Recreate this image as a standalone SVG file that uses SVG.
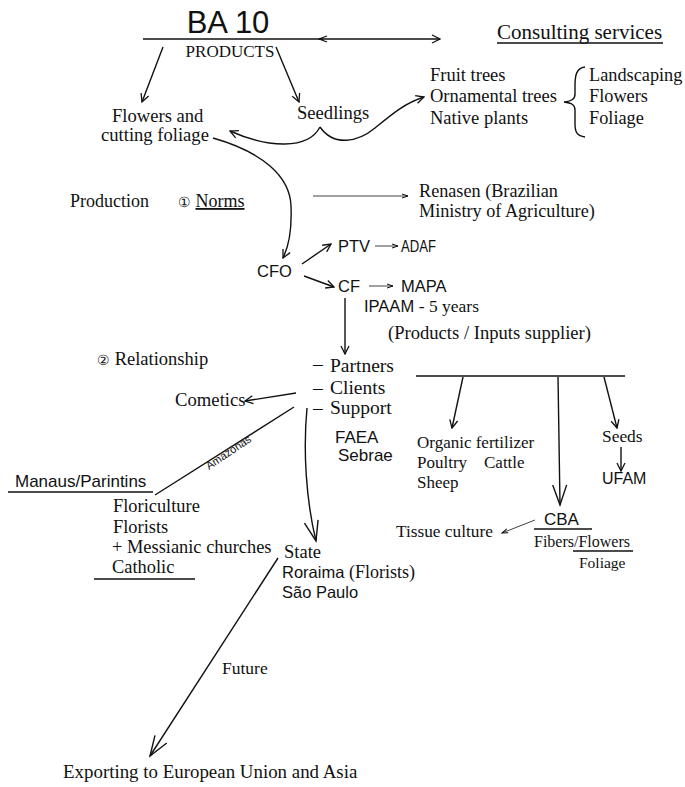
<svg xmlns="http://www.w3.org/2000/svg" width="685" height="787" viewBox="0 0 685 787">
<style>
  .s { font-family: "Liberation Serif", "Times New Roman", serif; fill: #111; }
  .a { font-family: "Liberation Sans", Arial, sans-serif; fill: #111; }
  .ln { stroke: #111; stroke-width: 1.4; fill: none; }
  .thin { stroke: #111; stroke-width: 0.8; fill: none; }
</style>
<defs>
  <marker id="head" markerWidth="10" markerHeight="10" refX="9" refY="5" orient="auto" markerUnits="userSpaceOnUse">
    <path d="M1,1 L9,5 L1,9" fill="none" stroke="#111" stroke-width="1.3"/>
  </marker>
  <marker id="headS" markerWidth="8" markerHeight="8" refX="7" refY="4" orient="auto" markerUnits="userSpaceOnUse">
    <path d="M1,2 L7,4 L1,6" fill="none" stroke="#111" stroke-width="1"/>
  </marker>
  <marker id="tail" markerWidth="10" markerHeight="10" refX="1" refY="5" orient="auto" markerUnits="userSpaceOnUse">
    <path d="M9,2 L1,5 L9,8" fill="none" stroke="#111" stroke-width="1.3"/>
  </marker>
  <marker id="vee" markerWidth="24" markerHeight="24" refX="22" refY="12" orient="auto" markerUnits="userSpaceOnUse">
    <path d="M2,5 L22,12 L2,19" fill="none" stroke="#111" stroke-width="1.4"/>
  </marker>
</defs>

<!-- connectors -->
<g id="connectors">
  <line class="ln" x1="143" y1="39" x2="323" y2="39"/>
  <line class="ln" x1="319" y1="39" x2="440" y2="39" marker-start="url(#tail)" marker-end="url(#head)"/>
  <line class="ln" x1="497" y1="43" x2="663" y2="43"/>
  <line class="ln" x1="163" y1="47" x2="142" y2="102" marker-end="url(#head)"/>
  <line class="ln" x1="276" y1="47" x2="299" y2="102" marker-end="url(#head)"/>
  <!-- seedlings split curve -->
  <path class="ln" d="M320,127 C308,150 268,148 230,131" marker-end="url(#head)"/>
  <path class="ln" d="M320,127 C334,147 358,142 375,128 C392,114 405,103 424,97" marker-end="url(#head)"/>
  <!-- brace -->
  <path class="ln" d="M585,67 C576,68 575,76 575,86 L575,94 C575,99 572,101 564,102 C572,103 575,105 575,110 L575,124 C575,132 577,136 585,137"/>
  <!-- cutting foliage to CFO -->
  <path class="ln" d="M213,138 C262,152 290,176 291,206 C292,230 289,246 283,258" marker-end="url(#head)"/>
  <line class="thin" x1="313" y1="196" x2="408" y2="196" marker-end="url(#headS)"/>
  <line class="ln" x1="302" y1="264" x2="331" y2="244" marker-end="url(#head)"/>
  <line class="ln" x1="304" y1="276" x2="334" y2="287" marker-end="url(#head)"/>
  <line class="thin" x1="375" y1="246" x2="398" y2="246" marker-end="url(#headS)"/>
  <line class="thin" x1="369" y1="286" x2="393" y2="286" marker-end="url(#headS)"/>
  <line class="ln" x1="345" y1="298" x2="345" y2="354" marker-end="url(#head)"/>
  <!-- supplier bar -->
  <line class="ln" x1="416" y1="376" x2="625" y2="376"/>
  <line class="ln" x1="463" y1="377" x2="452" y2="428" marker-end="url(#head)"/>
  <line class="ln" x1="558" y1="377" x2="560" y2="505" marker-end="url(#vee)"/>
  <line class="ln" x1="604" y1="377" x2="617" y2="428" marker-end="url(#head)"/>
  <line class="ln" x1="621" y1="447" x2="621" y2="471" marker-end="url(#head)"/>
  <line class="ln" x1="534" y1="529" x2="592" y2="529"/>
  <line class="ln" x1="573" y1="551" x2="633" y2="551"/>
  <line class="thin" x1="535" y1="520" x2="502" y2="533" marker-end="url(#headS)"/>
  <!-- relationship branches -->
  <line class="ln" x1="296" y1="393" x2="245" y2="401" marker-end="url(#head)"/>
  <line class="ln" x1="294" y1="407" x2="155" y2="495"/>
  <line class="ln" x1="8" y1="492" x2="153" y2="492"/>
  <line class="ln" x1="94" y1="579" x2="195" y2="579"/>
  <path class="ln" d="M307,408 C303,450 306,500 316,541" marker-end="url(#vee)"/>
  <line class="ln" x1="278" y1="558" x2="150" y2="756" marker-end="url(#vee)"/>
</g>

<g id="ba10">
  <text class="a" x="228" y="33" font-size="31" text-anchor="middle">BA 10</text>
  <text class="s" x="230" y="57" font-size="17" text-anchor="middle">PRODUCTS</text>
</g>
<g id="consulting">
  <text class="s" x="497" y="39" font-size="21">Consulting services</text>
</g>
<g id="flowers">
  <text class="s" x="112" y="122" font-size="18.6">Flowers and</text>
  <text class="s" x="101" y="141" font-size="18.6">cutting foliage</text>
</g>
<g id="seedlings">
  <text class="s" x="297" y="119" font-size="18.6">Seedlings</text>
</g>
<g id="trees">
  <text class="s" x="430" y="81" font-size="18.5">Fruit trees</text>
  <text class="s" x="430" y="102" font-size="18.5">Ornamental trees</text>
  <text class="s" x="430" y="124" font-size="18.5">Native plants</text>
</g>
<g id="uses">
  <text class="s" x="589" y="81" font-size="18.3">Landscaping</text>
  <text class="s" x="589" y="102" font-size="18.3">Flowers</text>
  <text class="s" x="589" y="124" font-size="18.3">Foliage</text>
</g>
<g id="production">
  <text class="s" x="70" y="207" font-size="18">Production</text>
  <text class="s" x="178" y="207" font-size="18"><tspan font-size="14">①</tspan> <tspan text-decoration="underline">Norms</tspan></text>
</g>
<g id="renasen">
  <text class="s" x="419" y="197" font-size="18.2">Renasen (Brazilian</text>
  <text class="s" x="419" y="217" font-size="18.2">Ministry of Agriculture)</text>
</g>
<g id="cfo"><text class="a" x="257" y="277" font-size="16.5">CFO</text></g>
<g id="ptv"><text class="a" x="338" y="252" font-size="16.5">PTV</text></g>
<g id="adaf"><text class="a" x="401" y="252" font-size="16.5" textLength="35" lengthAdjust="spacingAndGlyphs">ADAF</text></g>
<g id="cf"><text class="a" x="338" y="292" font-size="16.5">CF</text></g>
<g id="mapa">
  <text class="a" x="401" y="292" font-size="16.5">MAPA</text>
  <text class="a" x="364" y="312" font-size="16.5">IPAAM <tspan class="s" font-size="17.5">- 5 years</tspan></text>
</g>
<g id="supplier">
  <text class="s" x="388" y="339" font-size="18.6">(Products / Inputs supplier)</text>
</g>
<g id="relationship">
  <text class="s" x="97" y="365" font-size="18.5"><tspan font-size="14">②</tspan> Relationship</text>
</g>
<g id="partners">
  <text class="s" y="372" font-size="19.5"><tspan x="313" dy="-2">–</tspan><tspan x="330" dy="2">Partners</tspan></text>
  <text class="s" y="394" font-size="19.5"><tspan x="313">–</tspan><tspan x="330">Clients</tspan></text>
  <text class="s" y="414" font-size="19.5"><tspan x="313">–</tspan><tspan x="330">Support</tspan></text>
  <text class="a" x="335" y="443" font-size="17">FAEA</text>
  <text class="a" x="338" y="461" font-size="17">Sebrae</text>
</g>
<g id="cosmetics"><text class="s" x="175" y="406" font-size="18.7">Cometics</text></g>
<g id="amazonas">
  <text class="a" x="0" y="0" font-size="11" transform="translate(209,470) rotate(-34)">Amazonas</text>
  <text class="a" x="15" y="487" font-size="17">Manaus/Parintins</text>
  <text class="s" x="113" y="512" font-size="18.4">Floriculture</text>
  <text class="s" x="113" y="533" font-size="18.4">Florists</text>
  <text class="s" x="112" y="553" font-size="18.4">+ Messianic churches</text>
  <text class="s" x="112" y="573" font-size="18.4">Catholic</text>
</g>
<g id="state">
  <text class="s" x="284" y="558" font-size="18.5">State</text>
  <text class="a" x="282" y="578" font-size="16.5">Roraima <tspan class="s" font-size="18">(Florists)</tspan></text>
  <text class="a" x="282" y="598" font-size="16.5">São Paulo</text>
</g>
<g id="fertilizer">
  <text class="s" x="417" y="448" font-size="17">Organic fertilizer</text>
  <text class="s" x="417" y="468" font-size="17">Poultry</text>
  <text class="s" x="484" y="468" font-size="17">Cattle</text>
  <text class="s" x="417" y="488" font-size="17">Sheep</text>
</g>
<g id="seeds">
  <text class="s" x="602" y="442" font-size="17.4">Seeds</text>
  <text class="a" x="602" y="484" font-size="16">UFAM</text>
</g>
<g id="cba">
  <text class="a" x="544" y="525" font-size="17">CBA</text>
  <text class="s" x="534" y="547" font-size="16">Fibers/Flowers</text>
  <text class="s" x="579" y="568" font-size="15.5">Foliage</text>
</g>
<g id="tissue"><text class="s" x="396" y="537" font-size="17.3">Tissue culture</text></g>
<g id="future"><text class="s" x="222" y="674" font-size="17.5">Future</text></g>
<g id="export"><text class="s" x="63" y="778" font-size="18.9">Exporting to European Union and Asia</text></g>
</svg>
